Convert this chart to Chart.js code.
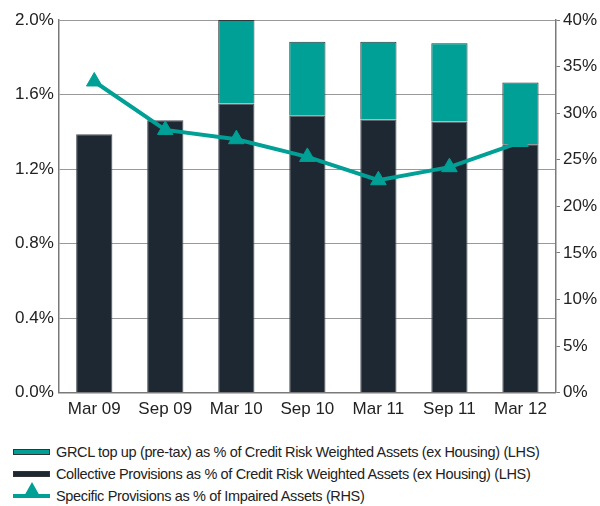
<!DOCTYPE html>
<html>
<head>
<meta charset="utf-8">
<script src="https://cdn.jsdelivr.net/npm/chart.js@4.4.1/dist/chart.umd.min.js"></script>
<style>
  html, body { margin: 0; padding: 0; background: #fff; }
  #wrap { position: relative; width: 600px; height: 506px; font-family: "Liberation Sans", Arial, sans-serif; }
  #chartBox { position: absolute; left: 0; top: 0; width: 600px; height: 427px; }
  #legend { position: absolute; left: 13px; top: 441px; }
  .item { display: flex; align-items: center; height: 22px; font-size: 14.5px; color: #222; white-space: nowrap; letter-spacing: -0.35px; }
  .sw { width: 37px; height: 6px; margin-right: 6px; border: 1px solid #333; box-sizing: border-box; }
  .ln { position: relative; width: 37px; height: 4px; margin-right: 6px; background: #00a096; }
  .tri { position: absolute; left: 10px; top: -12px; width: 0; height: 0; border-left: 9px solid transparent; border-right: 9px solid transparent; border-bottom: 16px solid #00a096; }
</style>
</head>
<body>
<div id="wrap">
  <div id="chartBox"><canvas id="chart"></canvas></div>
  <div id="legend">
    <div class="item"><span class="sw" style="background:#00a096"></span>GRCL top up (pre-tax) as % of Credit Risk Weighted Assets (ex Housing) (LHS)</div>
    <div class="item"><span class="sw" style="background:#1e2833"></span>Collective Provisions as % of Credit Risk Weighted Assets (ex Housing) (LHS)</div>
    <div class="item"><span class="ln"><span class="tri"></span></span>Specific Provisions as % of Impaired Assets (RHS)</div>
  </div>
</div>
<script>
// Categories and series
const periods = ['Mar 09', 'Sep 09', 'Mar 10', 'Sep 10', 'Mar 11', 'Sep 11', 'Mar 12'];
const collectivePct = [1.387, 1.462, 1.552, 1.486, 1.466, 1.455, 1.333];
const grclTopUpPct = [0, 0, 0.448, 0.397, 0.417, 0.420, 0.332];
const specificPct = [33.4, 28.2, 27.2, 25.3, 22.8, 24.2, 26.9];

const teal = '#00a096';
const navy = '#1e2833';
const axisGrey = '#7a7a7a';
const font = { family: '"Liberation Sans", Arial, sans-serif', size: 17 };

new Chart(document.getElementById('chart'), {
    type: 'bar',
    data: {
        labels: periods,
        datasets: [
            {
                type: 'line',
                label: 'Specific Provisions as % of Impaired Assets (RHS)',
                data: specificPct,
                yAxisID: 'y1',
                borderColor: teal,
                backgroundColor: teal,
                borderWidth: 4,
                pointStyle: 'triangle',
                pointRadius: 9,
                pointBorderWidth: 1,
                tension: 0,
                order: 0
            },
            {
                label: 'Collective Provisions as % of Credit Risk Weighted Assets (ex Housing) (LHS)',
                data: collectivePct,
                backgroundColor: navy,
                borderColor: '#4a4f55',
                borderWidth: 1,
                stack: 'lhs',
                categoryPercentage: 1,
                barPercentage: 0.51,
                order: 1
            },
            {
                label: 'GRCL top up (pre-tax) as % of Credit Risk Weighted Assets (ex Housing) (LHS)',
                data: grclTopUpPct,
                backgroundColor: teal,
                borderColor: '#2a3a3a',
                borderWidth: 1,
                stack: 'lhs',
                categoryPercentage: 1,
                barPercentage: 0.51,
                order: 1
            }
        ]
    },
    options: {
        responsive: true,
        maintainAspectRatio: false,
        animation: false,
        layout: { padding: { left: 10, right: 0, top: 20, bottom: 0 } },
        plugins: {
            legend: { display: false },
            tooltip: { enabled: false }
        },
        scales: {
            x: {
                stacked: true,
                grid: { display: false, drawTicks: false },
                border: { color: axisGrey, width: 1.5 },
                ticks: { color: '#222', font: font, padding: 7 }
            },
            y: {
                stacked: true,
                min: 0,
                max: 2.0,
                ticks: {
                    stepSize: 0.4,
                    color: '#222',
                    font: font,
                    padding: 5,
                    callback: v => v.toFixed(1) + '%'
                },
                grid: { color: '#999', borderDash: [2, 2], tickLength: 0 },
                border: { color: axisGrey, width: 1.5 }
            },
            y1: {
                position: 'right',
                min: 0,
                max: 40,
                ticks: {
                    stepSize: 5,
                    color: '#222',
                    font: font,
                    padding: 3,
                    callback: v => v + '%'
                },
                grid: { drawOnChartArea: false, color: axisGrey, tickLength: 4 },
                border: { color: axisGrey, width: 1.5 }
            }
        }
    }
});
</script>
</body>
</html>
